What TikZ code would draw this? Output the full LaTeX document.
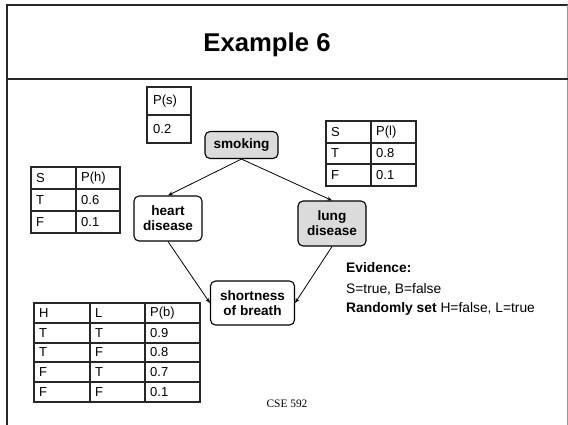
\documentclass[tikz,border=0pt]{standalone}
\usepackage{fontspec}
\setmainfont{Liberation Sans}
\newfontfamily\footfont{Liberation Serif}
\usetikzlibrary{arrows.meta}
\begin{document}
\begin{tikzpicture}[x=1pt,y=-1pt,
  frameline/.style={line width=2pt,black!85},
  tbl/.style={line width=1.3pt,black!85},
  cell/.style={anchor=west,inner sep=0pt,font=\fontsize{13}{13}\selectfont},
  netnode/.style={draw,line width=1.1pt,rounded corners=5pt,align=center,
    font=\fontsize{13.6}{15}\selectfont\bfseries,inner sep=0pt},
  shaded/.style={fill=black!14},
  link/.style={line width=0.8pt,-{Stealth[length=5pt,width=4pt]}},
  evid/.style={anchor=west,inner sep=0pt,font=\fontsize{13.8}{14}\selectfont}]
\useasboundingbox (0,0) rectangle (568,424);
\fill[white] (0,0) rectangle (568,424);

% slide frame and title bar
\draw[frameline] (7,440) -- (7,5) -- (570,5);
\draw[line width=1pt,black!40] (567.5,5) -- (567.5,440);
\draw[line width=1.5pt,black!85] (7,79) -- (568,79);
\node[font=\fontsize{25.7}{26}\selectfont\bfseries] (title) at (267,45) {Example 6};

% P(s) table
\draw[tbl] (147,87) rectangle (191,143);
\draw[tbl] (147,115) -- (191,115);
\node[cell] (ps0) at (153,101) {P(s)};
\node[cell] (ps1) at (153,129) {0.2};

% P(h) table
\draw[tbl] (31,167) rectangle (120,233);
\draw[tbl] (76,167) -- (76,233);
\draw[tbl] (31,189) -- (120,189) (31,211) -- (120,211);
\node[cell] (ph0a) at (36,178) {S};
\node[cell] (ph0b) at (81,178) {P(h)};
\node[cell] (ph1a) at (36,200) {T};
\node[cell] (ph1b) at (81,200) {0.6};
\node[cell] (ph2a) at (36,222) {F};
\node[cell] (ph2b) at (81,222) {0.1};

% P(l) table
\draw[tbl] (326,121) rectangle (416,186);
\draw[tbl] (371,121) -- (371,186);
\draw[tbl] (326,143) -- (416,143) (326,164) -- (416,164);
\node[cell] (pl0a) at (331,132) {S};
\node[cell] (pl0b) at (376,132) {P(l)};
\node[cell] (pl1a) at (331,153.5) {T};
\node[cell] (pl1b) at (376,153.5) {0.8};
\node[cell] (pl2a) at (331,175) {F};
\node[cell] (pl2b) at (376,175) {0.1};

% P(b) table
\draw[tbl] (34,303) rectangle (200,402);
\draw[tbl] (90,303) -- (90,402) (145,303) -- (145,402);
\draw[tbl] (34,323) -- (200,323) (34,343) -- (200,343)
           (34,362) -- (200,362) (34,382) -- (200,382);
\node[cell] (pb0a) at (39,313) {H};
\node[cell] (pb0b) at (95,313) {L};
\node[cell] (pb0c) at (150,313) {P(b)};
\node[cell] (pb1a) at (39,333) {T};
\node[cell] (pb1b) at (95,333) {T};
\node[cell] (pb1c) at (150,333) {0.9};
\node[cell] (pb2a) at (39,352.5) {T};
\node[cell] (pb2b) at (95,352.5) {F};
\node[cell] (pb2c) at (150,352.5) {0.8};
\node[cell] (pb3a) at (39,372) {F};
\node[cell] (pb3b) at (95,372) {T};
\node[cell] (pb3c) at (150,372) {0.7};
\node[cell] (pb4a) at (39,392) {F};
\node[cell] (pb4b) at (95,392) {F};
\node[cell] (pb4c) at (150,392) {0.1};

% network nodes
\node[netnode,shaded,minimum width=73pt,minimum height=27pt] (smoking) at (241.5,145) {smoking};
\node[netnode,minimum width=68pt,minimum height=45pt] (heart) at (168,218.5) {heart\\disease};
\node[netnode,shaded,minimum width=68pt,minimum height=45pt] (lung) at (332,223.5) {lung\\disease};
\node[netnode,minimum width=84pt,minimum height=44pt] (breath) at (252.5,303) {shortness\\of breath};

% dependencies
\draw[link] (smoking.south) -- (heart.north);
\draw[link] (smoking.south) -- (lung.north);
\draw[link] (heart.south) -- (breath.west);
\draw[link] (lung.south) -- (breath.east);

% evidence notes
\node[evid] (ev0) at (346,268) {\bfseries Evidence:};
\node[evid] (ev1) at (346,289) {S=true, B=false};
\node[evid] (ev2) at (346,309) {\bfseries Randomly set \mdseries H=false, L=true};

% footer
\node[font=\footfont\fontsize{11.4}{12}\selectfont] (footer) at (287,404) {CSE 592};
\end{tikzpicture}
\end{document}
